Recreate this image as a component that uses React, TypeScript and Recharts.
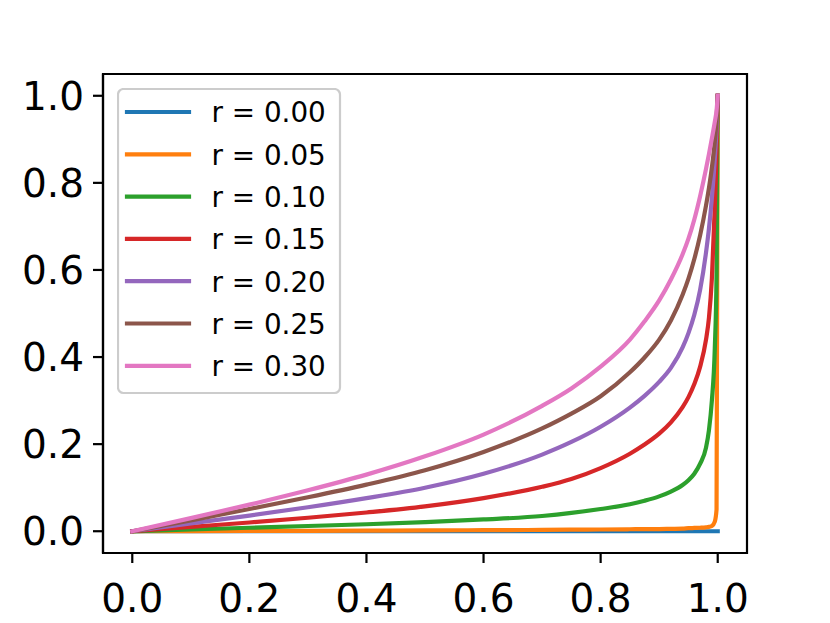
import React from 'react';
import { LineChart, Line, XAxis, YAxis, Legend, ReferenceArea } from 'recharts';

// x positions sampled along the curves (denser near 1 where they shoot up)
const xs = [0, 0.1, 0.2, 0.3, 0.4, 0.5, 0.6, 0.7, 0.75, 0.8, 0.85, 0.875, 0.9, 0.92, 0.94, 0.95, 0.96, 0.97, 0.98, 0.985, 0.99, 0.995, 0.998, 1.0];

const r00 = [0, 0, 0, 0, 0, 0, 0, 0, 0, 0, 0, 0, 0, 0, 0, 0, 0, 0, 0, 0, 0, 0, 0, 0];
const r05 = [0, 0.0003, 0.0006, 0.001, 0.0014, 0.0018, 0.0024, 0.003, 0.0035, 0.004, 0.0045, 0.005, 0.005, 0.0055, 0.006, 0.007, 0.0075, 0.008, 0.009, 0.01, 0.012, 0.022, 0.05, 1.0];
const r10 = [0, 0.004, 0.008, 0.012, 0.016, 0.021, 0.027, 0.035, 0.042, 0.051, 0.062, 0.07, 0.08, 0.091, 0.106, 0.117, 0.132, 0.155, 0.192, 0.232, 0.3, 0.42, 0.59, 1.0];
const r15 = [0, 0.01, 0.02, 0.031, 0.043, 0.057, 0.076, 0.102, 0.12, 0.145, 0.178, 0.199, 0.224, 0.25, 0.285, 0.308, 0.338, 0.378, 0.44, 0.49, 0.58, 0.745, 0.87, 1.0];
const r20 = [0, 0.018, 0.036, 0.055, 0.076, 0.1, 0.132, 0.176, 0.205, 0.24, 0.284, 0.311, 0.343, 0.375, 0.422, 0.455, 0.497, 0.555, 0.64, 0.695, 0.765, 0.855, 0.925, 1.0];
const r25 = [0, 0.025, 0.051, 0.078, 0.107, 0.14, 0.182, 0.236, 0.27, 0.31, 0.365, 0.399, 0.44, 0.484, 0.543, 0.58, 0.625, 0.68, 0.748, 0.788, 0.835, 0.895, 0.945, 1.0];
const r30 = [0, 0.03, 0.061, 0.094, 0.13, 0.172, 0.222, 0.288, 0.328, 0.378, 0.44, 0.482, 0.53, 0.578, 0.636, 0.672, 0.716, 0.77, 0.832, 0.866, 0.902, 0.94, 0.966, 1.0];

const seriesKeys = ['r00', 'r05', 'r10', 'r15', 'r20', 'r25', 'r30'];
const seriesLabels = ['r = 0.00', 'r = 0.05', 'r = 0.10', 'r = 0.15', 'r = 0.20', 'r = 0.25', 'r = 0.30'];
const seriesColors = ['#1f77b4', '#ff7f0e', '#2ca02c', '#d62728', '#9467bd', '#8c564b', '#e377c2'];
const seriesValues = [r00, r05, r10, r15, r20, r25, r30];

const axisTicks = [0, 0.2, 0.4, 0.6, 0.8, 1.0];

const rows = xs.map((x, i) => {
  const row: { [k: string]: number } = { x };
  seriesKeys.forEach((k, j) => {
    row[k] = seriesValues[j][i];
  });
  return row;
});

const font = 'DejaVu Sans';
const frame = { stroke: '#000', strokeWidth: 2.2 };

function LegendBox() {
  return (
    <svg width={226} height={308} style={{ display: 'block' }}>
      <rect x={1} y={1} width={222} height={304} rx={5.5} ry={5.5} fill="#fff" fillOpacity={0.8} stroke="#cccccc" strokeWidth={2.2} />
      {seriesLabels.map((label, i) => {
        const y = 24 + 42.3 * i;
        return (
          <g key={label}>
            <line x1={10} x2={72} y1={y} y2={y} stroke={seriesColors[i]} strokeWidth={4.2} strokeLinecap="square" />
            <text x={94.5} y={y + 10.3} fontFamily={font} fontSize={27.8} fill="#000">
              {label}
            </text>
          </g>
        );
      })}
    </svg>
  );
}

export default function App() {
  return (
    <LineChart width={822} height={615} data={rows} margin={{ top: 66, right: 83, bottom: 0, left: 0 }}>
      <XAxis
        dataKey="x"
        type="number"
        domain={[-0.05, 1.05]}
        ticks={axisTicks}
        tickFormatter={(v: number) => v.toFixed(1)}
        height={70}
        tickSize={10}
        tickMargin={21}
        tick={{ fill: '#000', fontSize: 39, fontFamily: font }}
        tickLine={frame}
        axisLine={frame}
        allowDataOverflow
      />
      <YAxis
        type="number"
        domain={[-0.05, 1.05]}
        ticks={axisTicks}
        tickFormatter={(v: number) => v.toFixed(1)}
        width={95}
        tickSize={10}
        tickMargin={9}
        tick={{ fill: '#000', fontSize: 39, fontFamily: font }}
        tickLine={frame}
        axisLine={frame}
        allowDataOverflow
      />
      {seriesKeys.map((k, i) => (
        <Line
          key={k}
          dataKey={k}
          name={seriesLabels[i]}
          type="monotone"
          stroke={seriesColors[i]}
          strokeWidth={4.2}
          strokeLinecap="square"
          dot={false}
          activeDot={false}
          isAnimationActive={false}
        />
      ))}
      <ReferenceArea x1={-0.05} x2={1.05} y1={-0.05} y2={1.05} fill="none" fillOpacity={0} stroke="#000" strokeWidth={2.2} ifOverflow="visible" />
      <Legend
        layout="vertical"
        align="center"
        verticalAlign="middle"
        content={() => <LegendBox />}
        wrapperStyle={{ left: 109, top: 80, width: 226, height: 308, bottom: 'auto', right: 'auto' }}
      />
    </LineChart>
  );
}
